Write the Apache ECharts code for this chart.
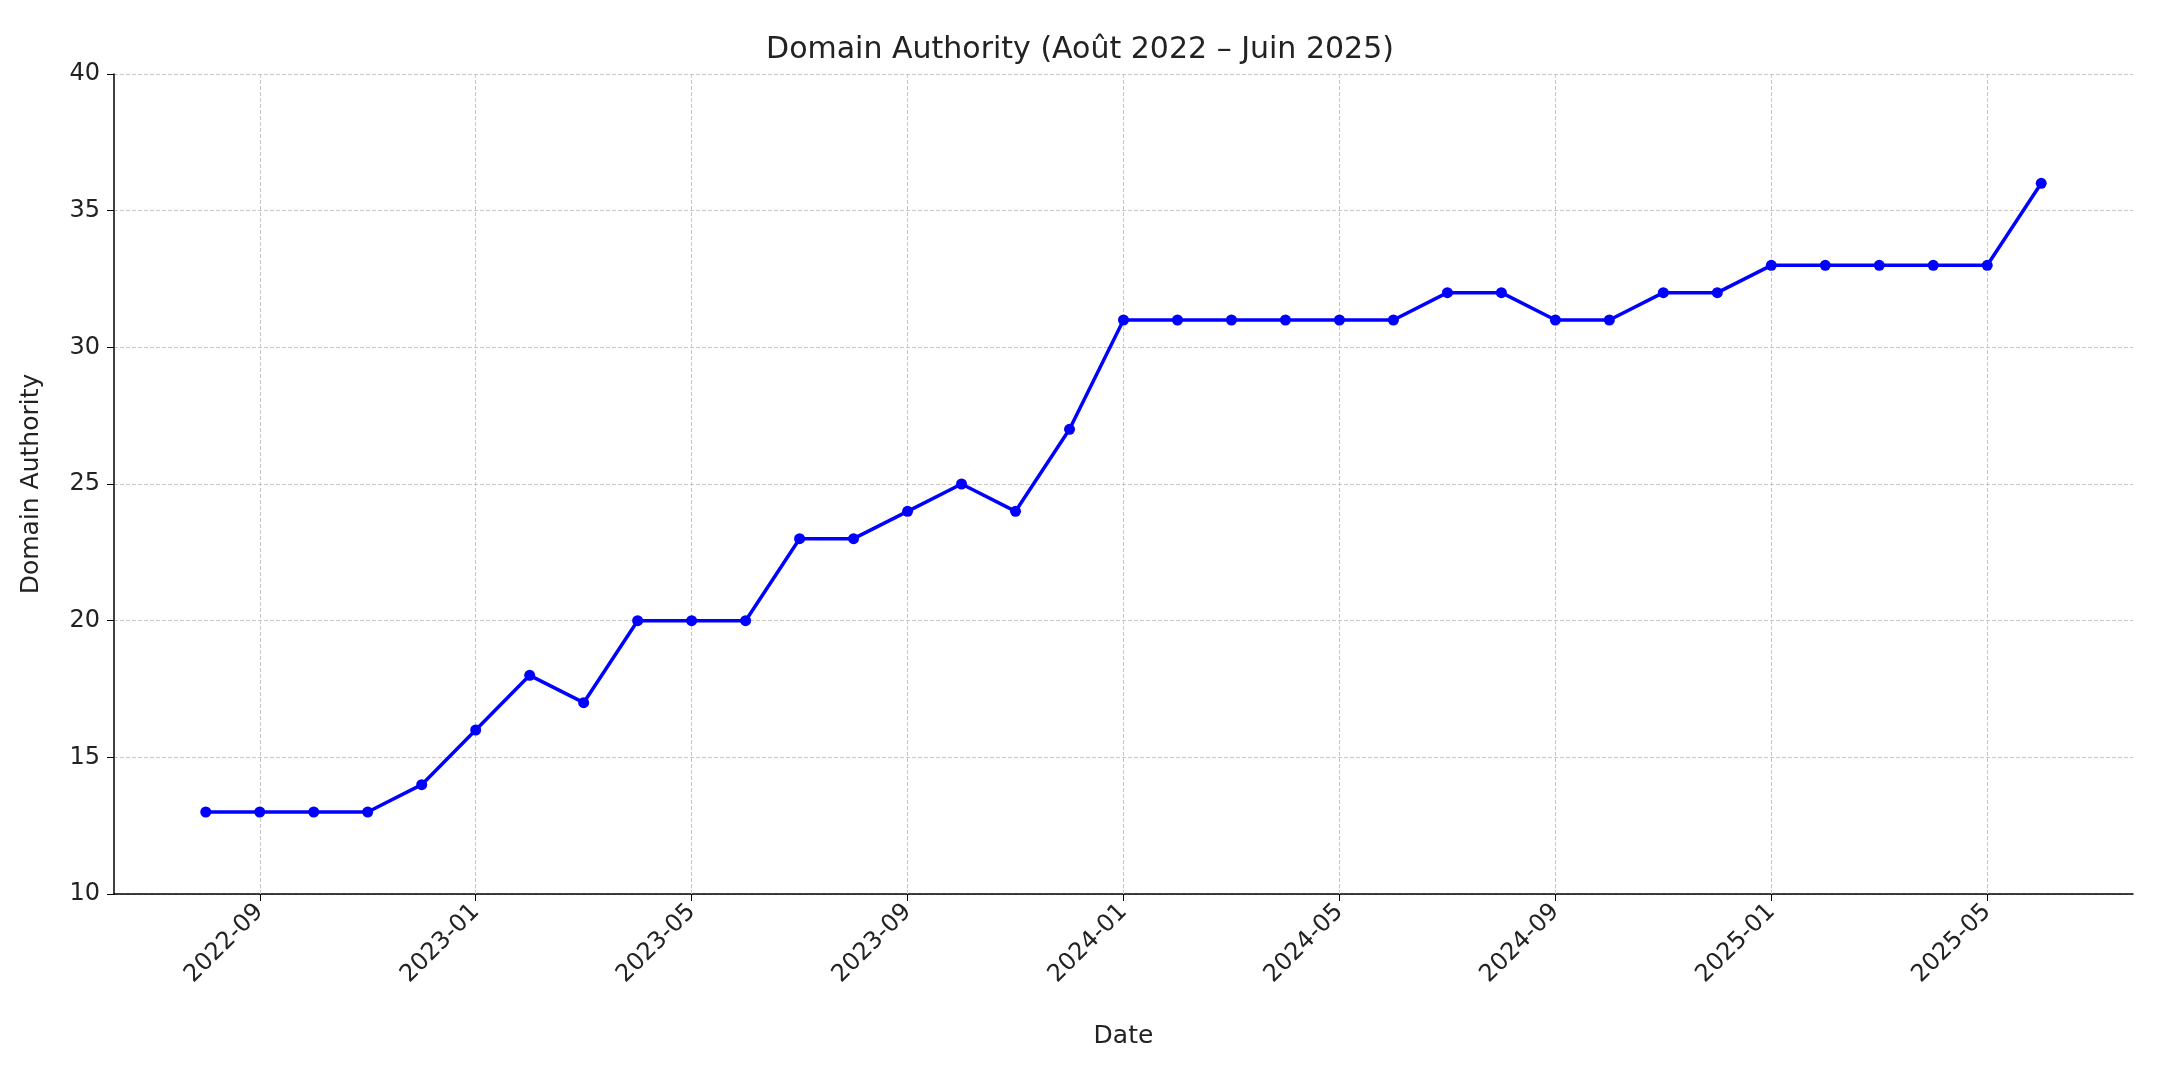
<!DOCTYPE html>
<html><head><meta charset="utf-8">
<script src="https://cdn.jsdelivr.net/npm/echarts@6/dist/echarts.min.js"></script>
<style>html,body{margin:0;background:#fff}#c{width:2160px;height:1080px}</style>
</head><body><div id="c"></div>
<script>
// mois depuis 2022-08 (index 0)
var months = ['2022-08','2022-09','2022-10','2022-11','2022-12','2023-01','2023-02','2023-03','2023-04','2023-05','2023-06','2023-07','2023-08','2023-09','2023-10','2023-11','2023-12','2024-01','2024-02','2024-03','2024-04','2024-05','2024-06','2024-07','2024-08','2024-09','2024-10','2024-11','2024-12','2025-01','2025-02','2025-03','2025-04','2025-05','2025-06'];
var da = [13,13,13,13,14,16,18,17,20,20,20,23,23,24,25,24,27,31,31,31,31,31,31,32,32,31,31,32,32,33,33,33,33,33,36];
var tickIdx = [1,5,9,13,17,21,25,29,33];

var myChart = echarts.init(document.getElementById('c'));
var font = 'DejaVu Sans';
var option = {
    animation: false,
    textStyle: {fontFamily: font},
    title: {
        text: 'Domain Authority (Août 2022 – Juin 2025)',
        left: 'center', top: 30,
        textStyle: {fontSize: 30, fontWeight: 'normal', color: '#222', fontFamily: font}
    },
    grid: {left: 114, right: 27, top: 74, bottom: 186},
    xAxis: {
        type: 'value', min: -1.7, max: 35.7,
        name: 'Date', nameLocation: 'middle', nameGap: 130,
        nameTextStyle: {fontSize: 25, color: '#222'},
        axisLine: {show: true, onZero: false, lineStyle: {color: '#000', width: 1.5}},
        splitLine: {show: false},
        axisTick: {show: true, customValues: tickIdx, length: 7, lineStyle: {color: '#000'}},
        axisLabel: {
            customValues: tickIdx, rotate: 45, fontSize: 24, color: '#222', margin: 14,
            formatter: function (v) { return months[Math.round(v)]; }
        }
    },
    yAxis: {
        type: 'value', min: 10, max: 40, interval: 5,
        name: 'Domain Authority', nameLocation: 'middle', nameGap: 70,
        nameTextStyle: {fontSize: 25, color: '#222'},
        axisLine: {show: true, onZero: false, lineStyle: {color: '#000', width: 1.5}},
        axisTick: {show: true, length: 7, lineStyle: {color: '#000'}},
        axisLabel: {fontSize: 24, color: '#222', margin: 14},
        splitLine: {show: true, lineStyle: {color: '#c8c8c8', type: 'dashed', width: 1}}
    },
    series: [{
        type: 'line',
        data: da.map(function (v, i) { return [i, v]; }),
        lineStyle: {color: '#0000ff', width: 3.5},
        itemStyle: {color: '#0000ff'},
        symbol: 'circle', symbolSize: 11,
        z: 5,
        markLine: {
            silent: true, symbol: 'none', label: {show: false},
            lineStyle: {color: '#c8c8c8', type: 'dashed', width: 1},
            data: tickIdx.map(function (t) { return {xAxis: t}; })
        }
    }]
};
myChart.setOption(option);
</script>
</body></html>
